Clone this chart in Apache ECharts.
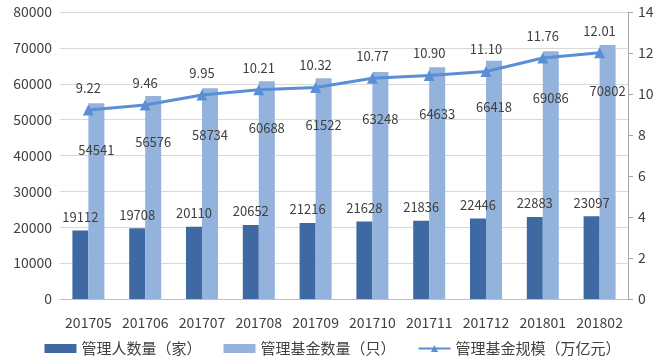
<!DOCTYPE html>
<html><head><meta charset="utf-8">
<script src="https://cdn.jsdelivr.net/npm/echarts@6/dist/echarts.min.js"></script>
<style>html,body{margin:0;padding:0;background:#fff}#c{width:665px;height:364px}</style>
</head><body><div id="c"></div>
<script>
var categories = ['201705','201706','201707','201708','201709','201710','201711','201712','201801','201802'];
var managers = [19112,19708,20110,20652,21216,21628,21836,22446,22883,23097];
var funds = [54541,56576,58734,60688,61522,63248,64633,66418,69086,70802];
var scale = [9.22,9.46,9.95,10.21,10.32,10.77,10.90,11.10,11.76,12.01];
var leftTicks = [0,80000,10000];
var rightTicks = [0,14,2];
var names = ['管理人数量（家）','管理基金数量（只）','管理基金规模（万亿元）'];

var FONT = '"Noto Sans CJK SC", "Noto Sans", sans-serif';
var chart = echarts.init(document.getElementById('c'));
chart.setOption({
  animation: false,
  textStyle: {fontFamily: FONT},
  grid: {left: 60, right: 37, top: 12, bottom: 65},
  legend: {
    bottom: 3, left: 'center', itemGap: 22, itemWidth: 32, itemHeight: 9,
    textStyle: {fontSize: 15, color: '#404040', fontFamily: FONT},
    data: [{name: names[0], icon: 'rect'}, {name: names[1], icon: 'rect'}, {name: names[2]}]
  },
  xAxis: {
    type: 'category', data: categories,
    axisLine: {lineStyle: {color: '#bfbfbf'}}, axisTick: {show: false},
    axisLabel: {fontSize: 14, color: '#404040', margin: 17, interval: 0}
  },
  yAxis: [{
    type: 'value', min: leftTicks[0], max: leftTicks[1], interval: leftTicks[2],
    axisLine: {show: false}, axisTick: {show: false},
    axisLabel: {fontSize: 14, color: '#404040', margin: 8, formatter: function(v){ return String(v); }},
    splitLine: {lineStyle: {color: '#d9d9d9'}}
  }, {
    type: 'value', min: rightTicks[0], max: rightTicks[1], interval: rightTicks[2], position: 'right',
    axisLine: {show: true, lineStyle: {color: '#a6a6a6'}},
    axisTick: {show: true, length: 5, lineStyle: {color: '#a6a6a6'}},
    axisLabel: {fontSize: 14, color: '#404040', margin: 10},
    splitLine: {show: false}
  }],
  series: [{
    name: names[0], type: 'bar', data: managers, barWidth: 16, barGap: '0%',
    itemStyle: {color: '#3f69a3'},
    label: {show: true, position: 'top', distance: 7, fontSize: 13, color: '#404040'}
  }, {
    name: names[1], type: 'bar', data: funds, barWidth: 16,
    itemStyle: {color: '#93b2dc'},
    label: {show: true, position: 'insideTop', distance: 40, fontSize: 13, color: '#404040'}
  }, {
    name: names[2], type: 'line', yAxisIndex: 1, data: scale,
    symbol: 'triangle', symbolSize: 11,
    lineStyle: {color: '#5a8fd6', width: 3}, itemStyle: {color: '#5a8fd6'},
    label: {show: true, position: 'top', distance: 10, fontSize: 13, color: '#404040',
      formatter: function(p){ return p.value.toFixed(2); }}
  }]
});
</script></body></html>
